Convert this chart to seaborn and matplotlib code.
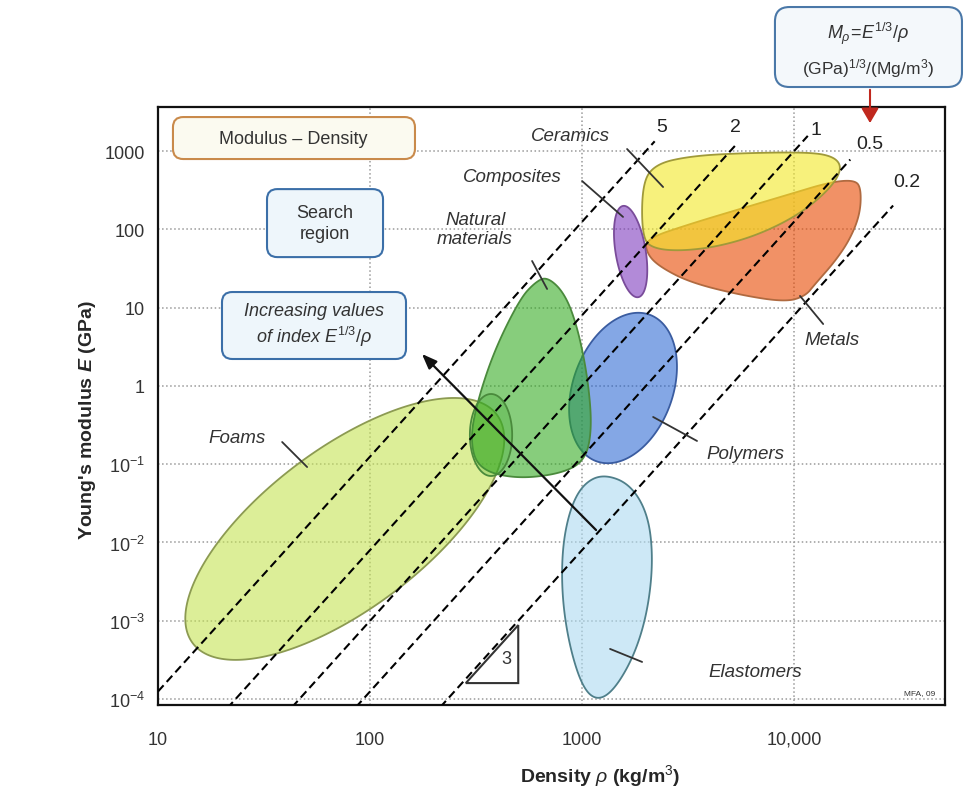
import numpy as np
import pandas as pd
import matplotlib
matplotlib.use("Agg")
import matplotlib.pyplot as plt
import seaborn as sns
from matplotlib.patches import FancyBboxPatch, Polygon
from matplotlib.ticker import NullFormatter

# index lines M = E^(1/3)/rho  (E in GPa, rho in Mg/m^3)
index_values = [5, 2, 1, 0.5, 0.2]
index_end_density = [2200, 5300, 11600, 18400, 29300]
index_text = ['5', '2', '1', '0.5', '0.2']
index_text_density = [2380, 5270, 12700, 22800, 34100]
index_text_modulus = [2085, 2085, 1910, 1230, 414]

# elliptic envelopes: centre, end of long axis, end of short axis  (density, modulus)
foams_ellipse = [(76, 0.0149), (396, 0.43), (45, 0.0975)]
natural_core_ellipse = [(372, 0.236), (372, 0.788), (468, 0.236)]
polymers_ellipse = [(1560, 0.94), (2085, 8.1), (938, 1.56)]
composites_ellipse = [(1694, 52), (1560, 199), (1990, 56)]

# outlined envelopes (density kg/m^3, modulus GPa)
natural_density = [684, 832, 957, 1067, 1114, 1033, 787, 483, 323, 296, 323, 389, 510, 600]
natural_modulus = [25, 15, 5.3, 1.2, 0.28, 0.11, 0.075, 0.065, 0.087, 0.21, 0.68, 3.0, 13, 21]

elastomers_density = [1256, 1683, 2047, 2163, 2047, 1778, 1432, 1189, 1012, 877, 805, 805, 877, 1012]
elastomers_modulus = [0.075, 0.056, 0.023, 0.0062, 0.0014, 3.8e-4, 1.35e-4, 9.5e-5, 1.35e-4,
                      4.4e-4, 0.0019, 0.0083, 0.027, 0.056]

ceramics_density = [1919, 1919, 2208, 3228, 5559, 11890, 15600, 16830, 14790, 10660, 6918, 4477, 2992, 2208]
ceramics_modulus = [75, 380, 680, 860, 940, 970, 840, 590, 330, 157, 87, 61, 53, 56]

metals_density = [1982, 3228, 5559, 9570, 14790, 19410, 20700, 20470, 18360, 15600, 12560, 11280,
                  9080, 5559, 3228, 2333, 2028]
metals_modulus = [75, 117, 182, 282, 402, 427, 327, 157, 75, 39, 20, 14, 11.8, 14.5, 21, 33, 48]

tick_x = [10, 100, 1000, 10000]
tick_x_labels = ['10', '100', '1000', '10,000']
tick_y = [1e-4, 1e-3, 1e-2, 1e-1, 1, 10, 100, 1000]
tick_y_labels = ['$10^{-4}$', '$10^{-3}$', '$10^{-2}$', '$10^{-1}$', '1', '10', '100', '1000']


def ellipse_pts(spec, n=240):
    c, a, b = [np.log10(np.array(p, dtype=float)) for p in spec]
    t = np.linspace(0, 2 * np.pi, n)
    pts = c + np.outer(np.cos(t), a - c) + np.outer(np.sin(t), b - c)
    return 10 ** pts[:, 0], 10 ** pts[:, 1]


def smooth_pts(xs, ys, n=4):
    # chaikin corner cutting in log space, closed outline
    pts = np.column_stack([np.log10(xs), np.log10(ys)])
    for _ in range(n):
        nxt = np.roll(pts, -1, axis=0)
        out = np.empty((2 * len(pts), 2))
        out[0::2] = 0.75 * pts + 0.25 * nxt
        out[1::2] = 0.25 * pts + 0.75 * nxt
        pts = out
    return 10 ** pts[:, 0], 10 ** pts[:, 1]


sns.set_style("white")
plt.rcParams['font.family'] = ['Liberation Sans', 'DejaVu Sans']
plt.rcParams['mathtext.fontset'] = 'custom'
plt.rcParams['mathtext.rm'] = 'Liberation Sans'
plt.rcParams['mathtext.it'] = 'Liberation Sans:italic'
plt.rcParams['mathtext.bf'] = 'Liberation Sans:bold'
try:
    plt.rcParams['mathtext.bfit'] = 'Liberation Sans:italic:bold'
    ylab = "Young's modulus $\\mathbfit{E}$ (GPa)"
except KeyError:
    ylab = "Young's modulus E (GPa)"

fig = plt.figure(figsize=(9.67, 8.03), dpi=100)
ax = fig.add_axes([0.1634, 0.1208, 0.8139, 0.7447])
ax.set_xscale('log')
ax.set_yscale('log')
ax.set_xlim(10, 51500)
ax.set_ylim(8.4e-5, 3650)

ax.grid(which='major', color='#9a9a9a', ls=':', lw=1.1)
ax.set_axisbelow(True)

# envelopes
bubbles = [
    (ellipse_pts(foams_ellipse), '#c5e35399', '#8c9a52'),
    (ellipse_pts(polymers_ellipse), '#1f5fd08c', '#3a5ca0'),
    (smooth_pts(natural_density, natural_modulus), '#30aa1e94', '#4a8a3c'),
    (ellipse_pts(natural_core_ellipse), '#3aa82a45', '#4a8a3c'),
    (smooth_pts(elastomers_density, elastomers_modulus), '#acdaf099', '#4f7f8a'),
    (smooth_pts(metals_density, metals_modulus), '#e9480099', '#b06a40'),
    (smooth_pts(ceramics_density, ceramics_modulus), '#f3e92599', '#a09a3a'),
    (ellipse_pts(composites_ellipse), '#7f3cbe99', '#7a4c9a'),
]
for (bx, by), fc, ec in bubbles:
    ax.fill(bx, by, facecolor=fc, edgecolor=ec, lw=1.3, zorder=2)

# guide lines of constant E^(1/3)/rho
rows = []
for m, end in zip(index_values, index_end_density):
    for rho in (10, end):
        rows.append({'index': m, 'density': rho, 'modulus': (m * rho / 1000.0) ** 3})
guide = pd.DataFrame(rows)
sns.lineplot(data=guide, x='density', y='modulus', units='index', estimator=None, sort=False,
             color='black', lw=1.5, ax=ax, zorder=3, legend=False)
for ln in ax.lines:
    ln.set_dashes([4, 2.2])

for t, x, y in zip(index_text, index_text_density, index_text_modulus):
    ax.text(x, y, t, fontsize=14, color='#222', ha='center', va='center', zorder=5)

# class labels with leader lines
labels = [
    ('Ceramics', 877, 1556, [(1630, 1061), (2410, 347)]),
    ('Composites', 468, 466, [(1000, 414), (1560, 144)]),
    ('Natural\nmaterials', 313, 101, [(581, 39.4), (684, 17.3)]),
    ('Foams', 23.7, 0.222, [(38.5, 0.192), (50.5, 0.092)]),
    ('Polymers', 5877, 0.135, [(2163, 0.401), (3484, 0.198)]),
    ('Metals', 15100, 3.97, [(10660, 14.1), (13710, 6.17)]),
    ('Elastomers', 6546, 2.22e-4, [(1355, 4.37e-4), (1919, 2.98e-4)]),
]
for name, x, y, seg in labels:
    ax.text(x, y, name, fontsize=13.5, style='italic', color='#333', ha='center', va='center',
            linespacing=1.15, zorder=5)
    ax.plot([seg[0][0], seg[1][0]], [seg[0][1], seg[1][1]], color='#333', lw=1.3, zorder=4)

# arrow of increasing index
ax.annotate('', xy=(172, 2.71), xytext=(1189, 0.0136),
            arrowprops=dict(arrowstyle='-|>,head_length=0.9,head_width=0.35', color='#111', lw=1.6),
            zorder=5)

# slope triangle
tri = Polygon([(283, 1.6e-4), (500, 1.6e-4), (500, 8.8e-4)], closed=True, fill=False,
              edgecolor='#333', lw=1.5, zorder=4)
ax.add_patch(tri)
ax.text(440, 3.3e-4, '3', fontsize=13, color='#333', ha='center', va='center', zorder=5)

ax.text(0.987, 0.015, 'MFA, 09', transform=ax.transAxes, fontsize=6, color='#333',
        ha='right', va='bottom')

# boxes inside the axes
asp = 787 / 598
boxes = [
    ((0.019, 0.913, 0.3075, 0.0702), '#c98a4b', '#fbfaf0', 'Modulus \u2013 Density', (0.1715, 0.948), 'normal'),
    ((0.1385, 0.749, 0.1474, 0.1137), '#3b6fa8', '#eef6fb', 'Search\nregion', (0.212, 0.806), 'normal'),
    ((0.0813, 0.5786, 0.2338, 0.112), '#3b6fa8', '#eef6fb',
     'Increasing values\nof index $E^{1/3}/\\rho$', (0.198, 0.635), 'italic'),
]
for (x0, y0, w, h), ec, fc, txt, (tx, ty), st in boxes:
    ax.add_patch(FancyBboxPatch((x0, y0), w, h, boxstyle='round,pad=0,rounding_size=0.013',
                                mutation_aspect=asp, transform=ax.transAxes, facecolor=fc,
                                edgecolor=ec, lw=1.5, zorder=6))
    ax.text(tx, ty, txt, transform=ax.transAxes, fontsize=13, style=st, color='#333',
            ha='center', va='center', linespacing=1.25, zorder=7)

# index definition box above the axes
fig.patches.append(FancyBboxPatch((0.8014, 0.8904), 0.1934, 0.0996,
                                  boxstyle='round,pad=0,rounding_size=0.015',
                                  mutation_aspect=967 / 803, transform=fig.transFigure,
                                  facecolor='#f4f8fb', edgecolor='#4a78a8', lw=1.5))
fig.text(0.8976, 0.958, '$M_\\rho\\!=\\!E^{1/3}/\\rho$', fontsize=13, color='#333',
         ha='center', va='center')
fig.text(0.8976, 0.915, '(GPa)$^{1/3}$/(Mg/m$^3$)', fontsize=12.5, color='#333',
         ha='center', va='center')
fig.add_artist(matplotlib.patches.FancyArrowPatch(
    (0.8997, 0.8904), (0.8997, 0.842), transform=fig.transFigure,
    arrowstyle='-|>,head_length=6,head_width=3.5', mutation_scale=1.5, color='#c0281e', lw=1.5))

# axes styling
ax.set_xticks(tick_x)
ax.set_xticklabels(tick_x_labels)
ax.set_yticks(tick_y)
ax.set_yticklabels(tick_y_labels)
ax.xaxis.set_minor_formatter(NullFormatter())
ax.yaxis.set_minor_formatter(NullFormatter())
ax.tick_params(which='major', direction='inout', length=9, width=1.2, labelsize=13, labelcolor='#333')
ax.tick_params(which='minor', direction='in', length=4, width=0.8)
ax.tick_params(axis='x', which='major', pad=14)
ax.tick_params(axis='y', which='major', pad=5)
for s in ax.spines.values():
    s.set_color('#111')
    s.set_linewidth(1.6)

ax.set_xlabel('Density $\\rho$ (kg/m$^3$)', fontsize=14, fontweight='bold')
ax.set_ylabel(ylab, fontsize=14, fontweight='bold')
ax.xaxis.set_label_coords(0.562, -0.117)
ax.xaxis.label.set_va('center')
ax.yaxis.set_label_coords(-0.089, 0.478)
ax.yaxis.label.set_va('center')

fig.savefig('out.png', dpi=100)
